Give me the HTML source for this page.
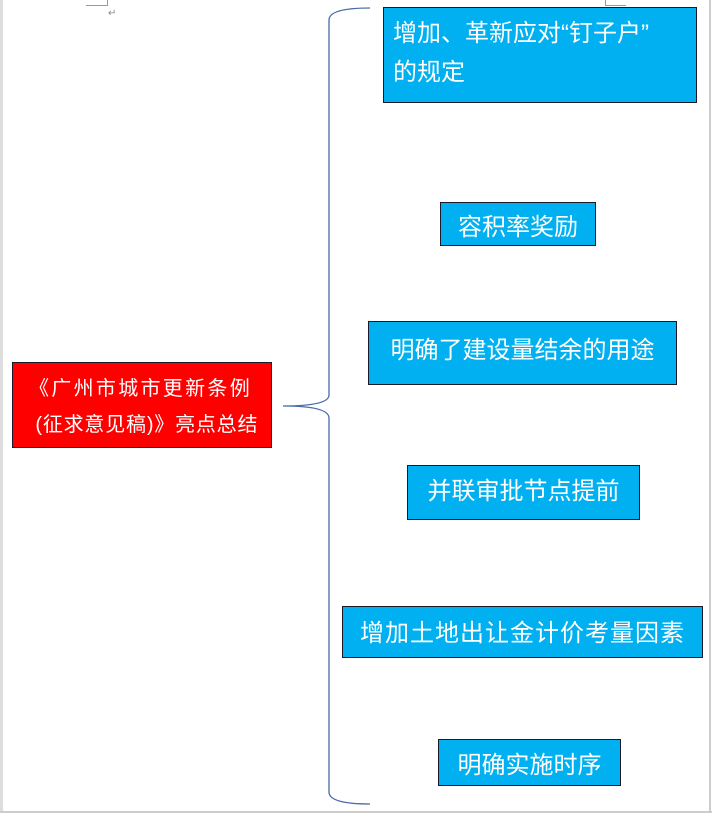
<!DOCTYPE html>
<html><head><meta charset="utf-8"><style>
body{margin:0;width:712px;height:815px;background:#fff;position:relative;overflow:hidden;font-family:"Liberation Sans","Noto Sans CJK SC",sans-serif}
.b{position:absolute;background:#00b0f0;border:1.5px solid #1a1a2a;color:#fff;font-size:24px;box-sizing:border-box;white-space:nowrap}
.c{display:flex;align-items:center;justify-content:center}
</style></head><body>
<div style="position:absolute;left:0;top:0;width:3px;height:812px;background:#ddd"></div>
<div style="position:absolute;left:709px;top:0;width:2px;height:812px;background:#ccc"></div>
<div style="position:absolute;left:0;top:811px;width:712px;height:2px;background:#ccc"></div>
<div style="position:absolute;left:86px;top:0;width:21px;height:5px;border-right:1px solid #999;border-bottom:1px solid #999"></div>
<div style="position:absolute;left:605px;top:0;width:20px;height:5px;border-left:1px solid #999;border-bottom:1px solid #999"></div>
<div style="position:absolute;left:108px;top:8px;font-size:10px;color:#888">↵</div>
<svg style="position:absolute;left:0;top:0" width="712" height="815">
<path d="M370 8 Q329 8 329 20 L329 395 Q329 406 283 406 Q329 406 329 418 L329 792 Q329 804 370 804" fill="none" stroke="#4a6aa8" stroke-width="1.3"/>
</svg>
<div class="b" style="left:12px;top:362px;width:260px;height:86px;background:#ff0000;font-size:20px;padding:8px 0 0 16px;line-height:36px;overflow:hidden"><span style="letter-spacing:2.3px">《广州市城市更新条例</span><br><span style="letter-spacing:0.8px">&nbsp;(征求意见稿)》亮点总结</span></div>
<div class="b" style="left:383px;top:7px;width:314px;height:96px;padding:6px 0 0 9px;line-height:39px">增加、革新应对“钉子户”<br>的规定</div>
<div class="b c" style="left:440px;top:202px;width:156px;height:44px">容积率奖励</div>
<div class="b c" style="left:368px;top:321px;width:309px;height:64px;padding-bottom:12px">明确了建设量结余的用途</div>
<div class="b c" style="left:407px;top:465px;width:233px;height:55px;padding-bottom:8px">并联审批节点提前</div>
<div class="b c" style="left:342px;top:606px;width:361px;height:52px;padding-bottom:4px;letter-spacing:1px">增加土地出让金计价考量因素</div>
<div class="b c" style="left:438px;top:739px;width:183px;height:47px">明确实施时序</div>
</body></html>
